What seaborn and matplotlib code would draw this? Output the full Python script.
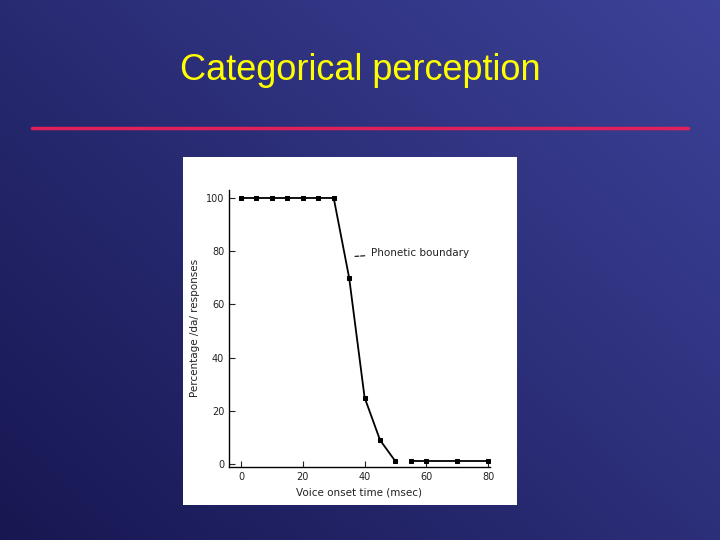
import numpy as np
import pandas as pd
import matplotlib.pyplot as plt
import seaborn as sns
from matplotlib.patches import Rectangle

# data
vot = [0, 5, 10, 15, 20, 25, 30, 35, 40, 45, 50, 55, 60, 70, 80]
pct = [100, 100, 100, 100, 100, 100, 100, 70, 25, 9, 1, 1, 1, 1, 1]
segment = [0] * 11 + [1] * 4
x_ticks = [0, 20, 40, 60, 80]
y_ticks = [0, 20, 40, 60, 80, 100]

df = pd.DataFrame({"vot": vot, "pct": pct, "seg": segment})

sns.set_style("white")
fig = plt.figure(figsize=(7.2, 5.4), dpi=100)

# slide background: blue gradient
bg = fig.add_axes([0, 0, 1, 1])
yy, xx = np.mgrid[0:1:200j, 0:1:200j]
t = 0.55 * xx + 0.45 * (1 - yy)
c0 = np.array([0.09, 0.09, 0.32])
c1 = np.array([0.24, 0.26, 0.60])
img = c0 + (c1 - c0) * t[..., None]
bg.imshow(img, extent=[0, 1, 0, 1], aspect="auto", origin="upper")
bg.set_xlim(0, 1)
bg.set_ylim(0, 1)
bg.axis("off")

bg.text(0.5, 1 - 70 / 540, "Categorical perception", color="#ffff00",
        fontsize=26, ha="center", va="center", family="Liberation Sans")
bg.plot([32 / 720, 688 / 720], [1 - 128 / 540] * 2, color="#e0205a", lw=2.5)
bg.add_patch(Rectangle((183 / 720, 1 - 505 / 540), 334 / 720, 348 / 540,
                       facecolor="white", edgecolor="none"))

ax = fig.add_axes([229 / 720, 1 - 466.7 / 540, 261 / 720, 276.7 / 540])
ax.set_facecolor("none")
sns.lineplot(data=df, x="vot", y="pct", units="seg", estimator=None, ax=ax,
             color="black", lw=1.3, marker="s", markersize=2.5,
             markeredgecolor="black")
ax.set_xlim(-3.9, 80.6)
ax.set_ylim(-1, 103)
ax.set_xticks(x_ticks)
ax.set_yticks(y_ticks)
ax.tick_params(labelsize=7, length=4, direction="in", width=0.8,
               left=True, bottom=True, colors="#222222")
for s in ["top", "right"]:
    ax.spines[s].set_visible(False)
for s in ["left", "bottom"]:
    ax.spines[s].set_color("black")
    ax.spines[s].set_linewidth(1)
ax.set_xlabel("Voice onset time (msec)", fontsize=7.5, color="#222222")
ax.set_ylabel("Percentage /da/ responses", fontsize=7.5, color="#222222")
ax.annotate("Phonetic boundary", xy=(36, 78), xytext=(42, 79.5),
            fontsize=7.5, color="#222222", va="center",
            arrowprops=dict(arrowstyle="-", color="black", lw=0.8, ls="--"))

fig.savefig("out.png", dpi=100)
